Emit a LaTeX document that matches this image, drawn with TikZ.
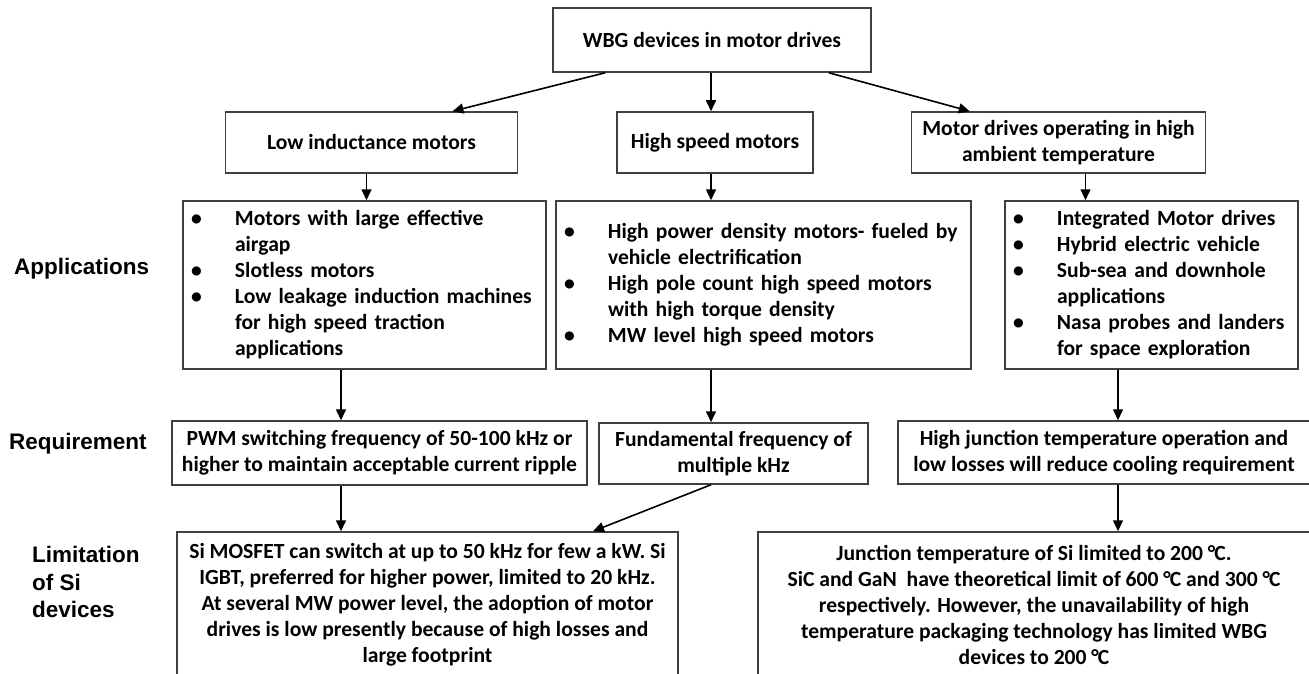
\documentclass[tikz,border=0pt]{standalone}
\usepackage{fontspec}
\setmainfont{Carlito}
\newfontfamily\sidefont{Liberation Sans}
\usetikzlibrary{arrows.meta, positioning, calc}

\newcommand{\itm}{\makebox[44pt][l]{\textbullet}}
\newcommand{\degC}{°\kern-1pt C}

\begin{document}
\begin{tikzpicture}[
    x=1pt, y=-1pt,
    font=\fontsize{21.6}{26}\selectfont\bfseries,
    >={Triangle[length=11pt, width=10pt]},
    box/.style={rectangle, draw=black!75, line width=1.5pt, align=center, inner sep=0pt, minimum height=61pt},
    listbox/.style={rectangle, draw=black!75, line width=1.5pt, align=left, inner xsep=8pt, inner ysep=0pt, minimum height=168pt},
    side/.style={font=\sidefont\fontsize{22.5}{27.5}\selectfont\bfseries, align=left, anchor=west, inner sep=0pt},
    link/.style={->, line width=1.6pt}
]
    \useasboundingbox (0,0) rectangle (1309,674);
    \clip (0,0) rectangle (1309,674);

    % Row labels
    \node[side] (lblApp) at (14,269) {Applications};
    \node[side] (lblReq) at (9,444) {Requirement};
    \node[side] (lblLim) at (32,582) {Limitation\\of Si\\devices};

    % --- TOP ---
    \node[box, minimum width=318pt, minimum height=64pt] (wbg) at (712,40) {WBG devices in motor drives};

    % --- MOTOR TYPES ---
    \node[box, minimum width=196pt] (highspd) at (715,142.5) {High speed motors};
    \node[box, minimum width=292pt, left=98pt of highspd] (lowind) {Low inductance motors};
    \node[box, minimum width=294pt, right=97pt of highspd] (ambient) {Motor drives operating in high\\ambient temperature};

    \draw[link] ([xshift=53pt]wbg.south west) -- ([xshift=81pt]lowind.north);
    \draw[link] ([xshift=-1pt]wbg.south) -- ([xshift=-1pt]wbg.south |- highspd.north);
    \draw[link] ([xshift=-43pt]wbg.south east) -- ([xshift=59pt]ambient.north west);

    % --- APPLICATIONS ---
    \node[listbox, text width=347pt] (appLeft) at (364.5,285) {%
        \begin{tabular}{@{}l@{}l@{}}
        \itm & Motors with large effective\\
             & airgap\\
        \itm & Slotless motors\\
        \itm & Low leakage induction machines\\
             & for high speed traction\\
             & applications
        \end{tabular}};
    \node[listbox, text width=399pt] (appMid) at (763.5,285) {%
        \begin{tabular}{@{}l@{}l@{}}
        \itm & High power density motors- fueled by\\
             & vehicle electrification\\
        \itm & High pole count high speed motors\\
             & with high torque density\\
        \itm & MW level high speed motors
        \end{tabular}};
    \node[listbox, text width=277pt] (appRight) at (1151.5,285) {%
        \begin{tabular}{@{}l@{}l@{}}
        \itm & Integrated Motor drives\\
        \itm & Hybrid electric vehicle\\
        \itm & Sub-sea and downhole\\
             & applications\\
        \itm & Nasa probes and landers\\
             & for space exploration
        \end{tabular}};

    \draw[link] ([xshift=-5pt]lowind.south) -- ([xshift=-5pt]lowind.south |- appLeft.north);
    \draw[link] ([xshift=-4pt]highspd.south) -- ([xshift=-4pt]highspd.south |- appMid.north);
    \draw[link] ([xshift=27pt]ambient.south) -- ([xshift=27pt]ambient.south |- appRight.north);

    % --- REQUIREMENTS ---
    \node[box, minimum width=415pt, minimum height=64pt] (reqLeft) at (379.5,453) {PWM switching frequency of 50-100 kHz or\\higher to maintain acceptable current ripple};
    \node[box, minimum width=269pt] (reqMid) at (733.5,453.5) {Fundamental frequency of\\multiple kHz};
    \node[box, minimum width=412pt, minimum height=63pt] (reqRight) at (1104,452.5) {High junction temperature operation and\\low losses will reduce cooling requirement};

    \draw[link] ([xshift=-23.5pt]appLeft.south) -- ([xshift=-23.5pt]appLeft.south |- reqLeft.north);
    \draw[link] ([xshift=-52.5pt]appMid.south) -- ([xshift=-52.5pt]appMid.south |- reqMid.north);
    \draw[link] ([xshift=-33.5pt]appRight.south) -- ([xshift=-33.5pt]appRight.south |- reqRight.north);

    % --- LIMITATIONS ---
    \node[box, minimum width=501pt, minimum height=146pt] (limLeft) at (427.5,605) {Si MOSFET can switch at up to 50 kHz for few a kW. Si\\IGBT, preferred for higher power, limited to 20 kHz.\\At several MW power level, the adoption of motor\\drives is low presently because of high losses and\\large footprint};
    \node[box, minimum width=552pt, minimum height=146pt] (limRight) at (1034,605) {Junction temperature of Si limited to 200 \degC.\\SiC and GaN\ \ have theoretical limit of 600 \degC{} and 300 \degC\\respectively. However, the unavailability of high\\temperature packaging technology has limited WBG\\devices to 200 \degC};

    \draw[link] ([xshift=-38.5pt]reqLeft.south) -- ([xshift=-38.5pt]reqLeft.south |- limLeft.north);
    \draw[link] ([xshift=-22.5pt]reqMid.south) -- ([xshift=165.5pt]limLeft.north);
    \draw[link] ([xshift=14pt]reqRight.south) -- ([xshift=14pt]reqRight.south |- limRight.north);

\end{tikzpicture}
\end{document}
